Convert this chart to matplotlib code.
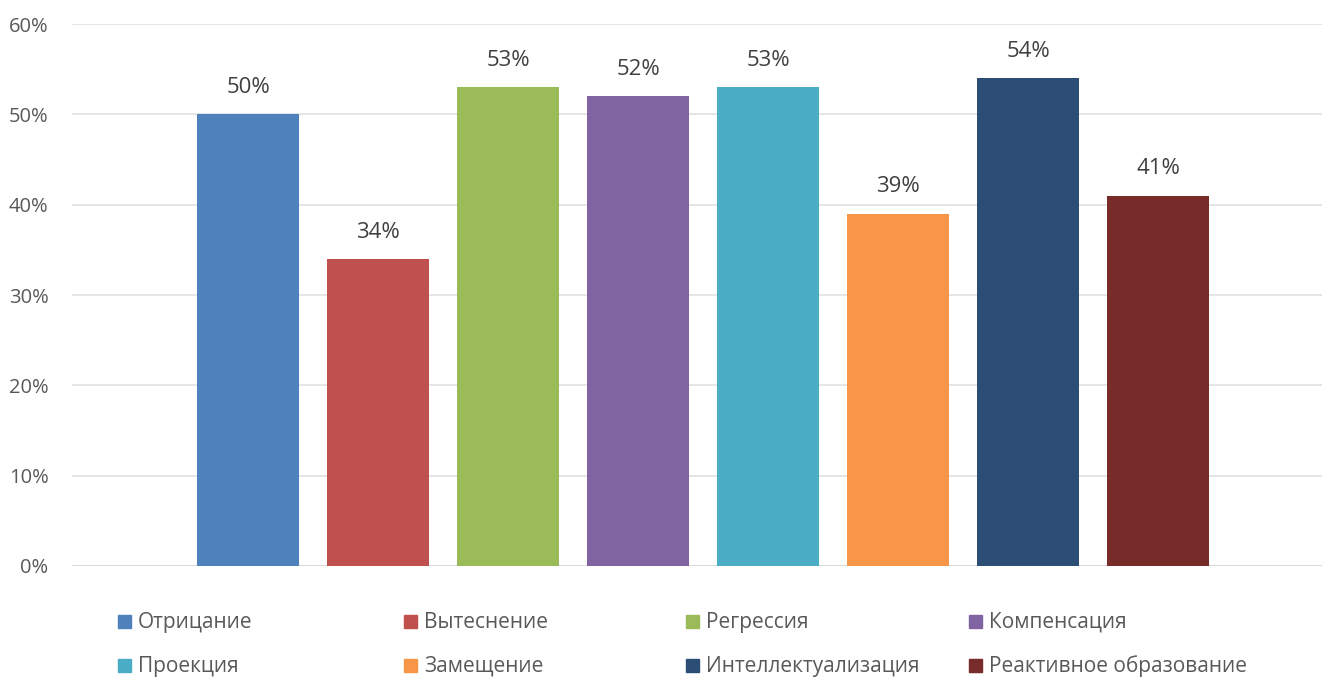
import matplotlib.pyplot as plt
from matplotlib.patches import Rectangle
import numpy as np

plt.rcParams['font.family'] = ['Open Sans', 'DejaVu Sans']

series = ["Отрицание", "Вытеснение", "Регрессия", "Компенсация",
          "Проекция", "Замещение", "Интеллектуализация", "Реактивное образование"]
values = [50, 34, 53, 52, 53, 39, 54, 41]
colors = ["#4F81BD", "#C0504D", "#9BBB59", "#8064A2",
          "#4BACC6", "#F79646", "#2C4D75", "#772C2A"]
yticks = [0, 10, 20, 30, 40, 50, 60]

fig = plt.figure(figsize=(13.22, 6.77), dpi=100)
ax = fig.add_axes([0.0545, 0.164, 0.9455, 0.8005])

x = np.arange(len(values))
bars = ax.bar(x, values, width=0.785, color=colors, zorder=3)

for b, v in zip(bars, values):
    ax.text(b.get_x() + b.get_width() / 2, v + 1.8, f"{v}%",
            ha='center', va='bottom', fontsize=16, color='#404040')

ax.set_ylim(0, 60)
ax.set_xlim(-1.354, 8.26)
ax.set_yticks(yticks)
ax.set_yticklabels([f"{t}%" for t in yticks], fontsize=14.5, color='#595959')
ax.set_xticks([])
ax.grid(axis='y', color='#E3E3E3', linewidth=1.3, zorder=0)
for s in ax.spines.values():
    s.set_visible(False)
ax.axhline(0, color='#D9D9D9', linewidth=1.5, zorder=2)
ax.tick_params(axis='y', length=0, pad=17)

# легенда: четыре колонки по две строки
W, H = 1322, 677
col_x = [118, 404, 686, 969]
row_y = [621, 665]
sq = 13
for i, (name, c) in enumerate(zip(series, colors)):
    px = col_x[i % 4]
    py = row_y[i // 4]
    fig.patches.append(Rectangle((px / W, 1 - (py + sq / 2) / H), sq / W, sq / H,
                                 transform=fig.transFigure, color=c))
    fig.text((px + sq + 7) / W, 1 - (py + 7) / H, name, fontsize=15, color='#595959',
             ha='left', va='baseline')

fig.savefig("out.png", dpi=100)
